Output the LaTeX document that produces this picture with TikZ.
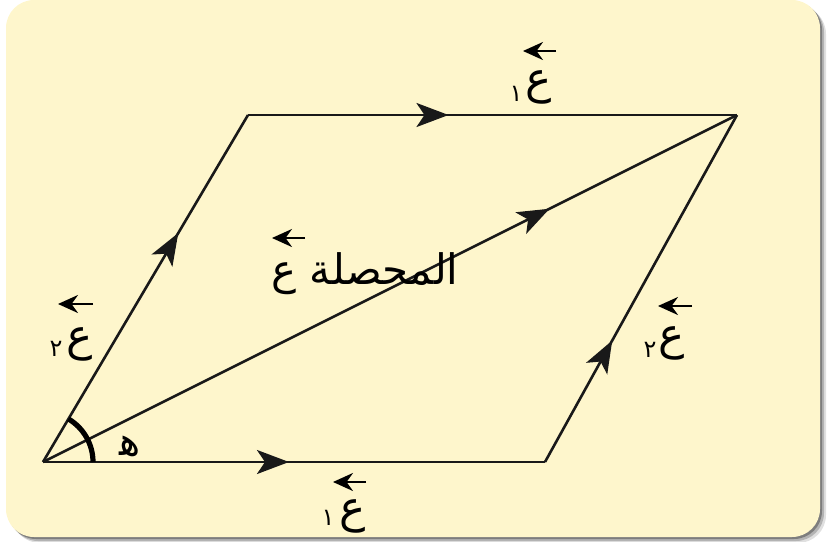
\documentclass[tikz,border=0pt]{standalone}
\usepackage{fontspec}
\newfontfamily\arabicfont[Script=Arabic]{DejaVu Sans}
\TeXXeTstate=1
\usetikzlibrary{arrows.meta, decorations.markings, angles}
\definecolor{papier}{RGB}{254,246,204}
\tikzset{
  side/.style={line width=1.3pt, black!90},
  midarrow/.style={postaction={decorate}, decoration={markings,
      mark=at position #1 with {\arrow{Stealth[length=16pt,width=12pt,inset=4pt]}}}},
  vecarrow/.style={-{Stealth[length=10pt,width=9pt]}, line width=1.3pt},
  ain/.style={font=\arabicfont\fontsize{22}{26}\selectfont, inner sep=0pt},
  digit/.style={font=\arabicfont\fontsize{12}{14}\selectfont, inner sep=0pt},
}
\begin{document}
\begin{tikzpicture}[x=0.5pt, y=-0.5pt]
    \useasboundingbox (0,0) rectangle (827,542);
    % fondo con sombra
    \foreach \s/\o in {6/0.12, 4/0.2, 2/0.3} {
        \fill[black, opacity=\o, rounded corners=14pt] (6+\s,0+\s) rectangle (820+\s,537+\s);
    }
    \fill[papier, rounded corners=14pt] (6,0) rectangle (820,537);
    % vertices del paralelogramo
    \coordinate (O) at (43,462);
    \coordinate (B) at (545,462);
    \coordinate (C) at (737,115);
    \coordinate (D) at (248,115);
    \draw[side, midarrow=0.49] (O) -- (B);
    \draw[side, midarrow=0.41] (D) -- (C);
    \draw[side, midarrow=0.66] (O) -- (D);
    \draw[side, midarrow=0.35] (B) -- (C);
    \draw[side, midarrow=0.73] (O) -- (C);
    % angulo
    \pic[draw, line width=2.6pt, angle radius=25pt] {angle=B--O--D};
    \node[font=\arabicfont\fontsize{20}{22}\selectfont, inner sep=0pt] (h) at (130,446) {\beginR ه^^^^200d\endR};
    % etiquetas
    \node[ain] (a1t) at (539,87) {ع};
    \node[digit] (n1t) at (516,94) {١};
    \draw[vecarrow] ([shift={(17,-36)}]a1t.center) -- ([shift={(-16,-36)}]a1t.center);
    \node[ain] (a1b) at (353,516) {ع};
    \node[digit] (n1b) at (328,518) {١};
    \draw[vecarrow] ([shift={(13,-34)}]a1b.center) -- ([shift={(-20,-34)}]a1b.center);
    \node[ain] (a2l) at (80,344) {ع};
    \node[digit] (n2l) at (56,349) {٢};
    \draw[vecarrow] ([shift={(13,-40)}]a2l.center) -- ([shift={(-22,-40)}]a2l.center);
    \node[ain] (a2r) at (672,343) {ع};
    \node[digit] (n2r) at (650,350) {٢};
    \draw[vecarrow] ([shift={(20,-37)}]a2r.center) -- ([shift={(-14,-37)}]a2r.center);
    \node[ain, anchor=west, font=\arabicfont\fontsize{21}{24}\selectfont] (res) at (271,274) {\beginR المحصلة ع\endR};
    \draw[vecarrow] ([shift={(34,-36)}]res.west) -- ([shift={(1,-36)}]res.west);
\end{tikzpicture}
\end{document}
